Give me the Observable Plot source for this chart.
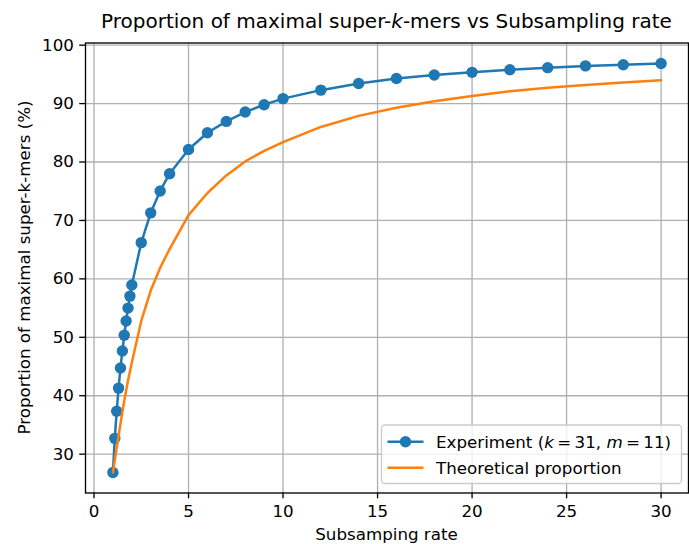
<!DOCTYPE html>
<html>
<head>
<meta charset="utf-8">
<script src="https://cdn.jsdelivr.net/npm/d3@7"></script>
<script src="https://cdn.jsdelivr.net/npm/@observablehq/plot@0.6"></script>
<style>
  html, body { margin: 0; padding: 0; background: #fff; }
</style>
</head>
<body>
<div id="chart"></div>
<script>
// Subsampling rates (x)
const rate = [1, 1.1, 1.2, 1.3, 1.4, 1.5, 1.6, 1.7, 1.8, 1.9, 2, 2.5, 3, 3.5, 4, 5, 6, 7, 8, 9, 10, 12, 14, 16, 18, 20, 22, 24, 26, 28, 30];
// Experiment (k = 31, m = 11), %
const experiment = [26.85, 32.7, 37.35, 41.3, 44.75, 47.65, 50.35, 52.8, 55.0, 57.05, 58.95, 66.2, 71.3, 75.05, 78.0, 82.15, 85.0, 86.95, 88.55, 89.8, 90.85, 92.3, 93.45, 94.3, 94.9, 95.35, 95.8, 96.15, 96.45, 96.65, 96.85];
// Theoretical proportion, %
const theoretical = [26.85, 29.0, 31.1, 33.2, 35.2, 37.2, 39.1, 40.9, 42.6, 44.1, 45.7, 52.8, 58.0, 61.9, 65.1, 70.9, 74.7, 77.7, 80.1, 81.9, 83.4, 86.0, 87.9, 89.3, 90.4, 91.3, 92.1, 92.7, 93.2, 93.6, 94.0];
// Tick labels
const xTicks = [0, 5, 10, 15, 20, 25, 30];
const yTicks = [30, 40, 50, 60, 70, 80, 90, 100];

const expData = rate.map((r, i) => ({rate: r, value: experiment[i]}));
const theoData = rate.map((r, i) => ({rate: r, value: theoretical[i]}));

const W = 689, H = 544;
const mL = 85, mR = 1, mT = 42.5, mB = 51.5;
const FONT = "DejaVu Sans";
const FS = "16.7px";

const svg = Plot.plot({
  width: W,
  height: H,
  marginLeft: mL,
  marginRight: mR,
  marginTop: mT,
  marginBottom: mB,
  style: {fontFamily: FONT, fontSize: FS, background: "#fff", color: "#000"},
  x: {domain: [-0.45, 31.45]},
  y: {domain: [23.35, 100.37]},
  marks: [
    Plot.gridX(xTicks, {stroke: "#b0b0b0", strokeOpacity: 1, strokeWidth: 1.33}),
    Plot.gridY(yTicks, {stroke: "#b0b0b0", strokeOpacity: 1, strokeWidth: 1.33}),
    Plot.axisX({ticks: xTicks, tickSize: 5.8, tickPadding: 6.5, label: null, strokeWidth: 1.33}),
    Plot.axisY({ticks: yTicks, tickSize: 5.8, tickPadding: 5.8, label: null, strokeWidth: 1.33}),
    Plot.line(expData, {x: "rate", y: "value", stroke: "#1f77b4", strokeWidth: 2.5}),
    Plot.dot(expData, {x: "rate", y: "value", r: 5.7, fill: "#1f77b4", stroke: "none"}),
    Plot.line(theoData, {x: "rate", y: "value", stroke: "#ff7f0e", strokeWidth: 2.5}),
    Plot.frame({stroke: "#000", strokeWidth: 1.33})
  ]
});

const s = d3.select(svg);
const cx = (mL + (W - mR)) / 2;

function txt(parent, x, y, anchor, size) {
  return parent.append("text")
    .attr("x", x).attr("y", y)
    .style("text-anchor", anchor)
    .style("font-family", FONT)
    .style("font-size", size)
    .style("fill", "#000");
}

// Title
const title = txt(s, cx, 28, "middle", "20px");
title.append("tspan").text("Proportion of maximal super-");
title.append("tspan").style("font-style", "italic").text("k");
title.append("tspan").text("-mers vs Subsampling rate");

// X label
txt(s, cx, 540, "middle", FS).text("Subsamping rate");

// Y label
txt(s, 0, 0, "middle", FS)
  .attr("transform", `translate(29.5,${(mT + H - mB) / 2}) rotate(-90)`)
  .text("Proportion of maximal super-k-mers (%)");

// Legend
const lg = s.append("g");
lg.append("rect")
  .attr("x", 381.5).attr("y", 425).attr("width", 300).attr("height", 58.5)
  .attr("rx", 3.5).attr("fill", "#fff").attr("fill-opacity", 0.8)
  .attr("stroke", "#cccccc").attr("stroke-width", 1.33);
lg.append("line").attr("x1", 387.5).attr("x2", 423.5).attr("y1", 441.7).attr("y2", 441.7)
  .attr("stroke", "#1f77b4").attr("stroke-width", 2.5);
lg.append("circle").attr("cx", 405.5).attr("cy", 441.7).attr("r", 5.7).attr("fill", "#1f77b4");
lg.append("line").attr("x1", 387.5).attr("x2", 423.5).attr("y1", 467.7).attr("y2", 467.7)
  .attr("stroke", "#ff7f0e").attr("stroke-width", 2.5);
const t1 = txt(lg, 436, 447.8, "start", FS);
t1.append("tspan").text("Experiment (");
t1.append("tspan").style("font-style", "italic").text("k");
t1.append("tspan").text("\u2009=\u200931, ");
t1.append("tspan").style("font-style", "italic").text("m");
t1.append("tspan").text("\u2009=\u200911)");
txt(lg, 436, 473.8, "start", FS).text("Theoretical proportion");

document.getElementById("chart").appendChild(svg);
</script>
</body>
</html>
